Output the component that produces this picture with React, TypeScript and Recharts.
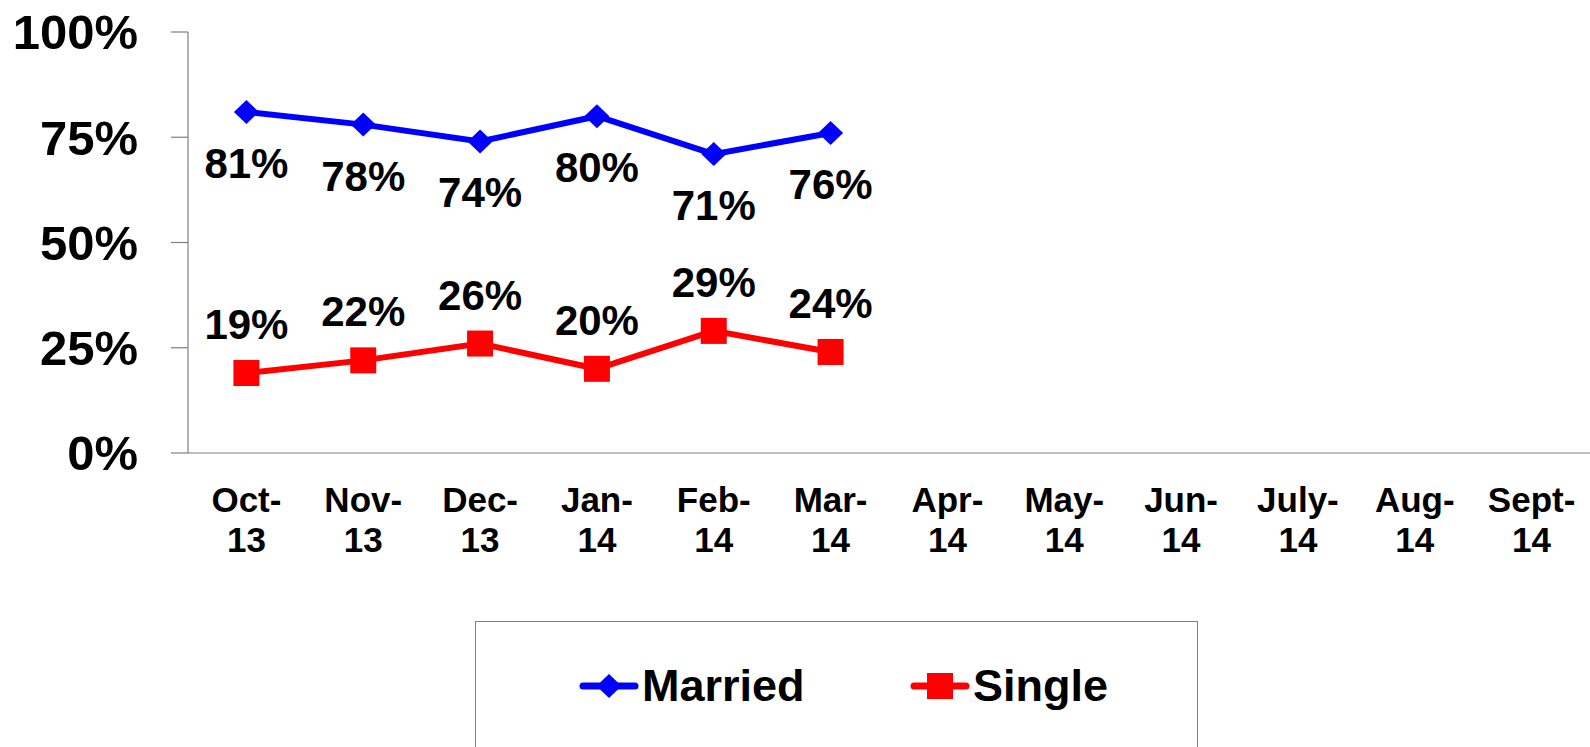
import React from 'react';
import { LineChart, Line, XAxis, YAxis, Legend, LabelList } from 'recharts';

const FONT = '"Liberation Sans", Arial, "DejaVu Sans", sans-serif';

const months = ['Oct-13', 'Nov-13', 'Dec-13', 'Jan-14', 'Feb-14', 'Mar-14', 'Apr-14', 'May-14', 'Jun-14', 'July-14', 'Aug-14', 'Sept-14'];
const married = [81, 78, 74, 80, 71, 76];
const single = [19, 22, 26, 20, 29, 24];
const yTicks = [0, 25, 50, 75, 100];
const boundaryTicks = [0, 1, 2, 3, 4, 5, 6, 7, 8, 9, 10, 11, 12];

const BLUE = '#0000FF';
const RED = '#FF0000';
const AXIS = '#7f7f7f';

const data = months.map((m, i) => ({
  month: m,
  Married: i < married.length ? married[i] : null,
  Single: i < single.length ? single[i] : null,
}));

const DiamondDot = (props: any) => {
  const { cx, cy, value } = props;
  if (cx == null || cy == null || value == null) return null;
  const w = 12.5, h = 12;
  return <polygon points={`${cx - w},${cy} ${cx},${cy - h} ${cx + w},${cy} ${cx},${cy + h}`} fill={BLUE} />;
};

const SquareDot = (props: any) => {
  const { cx, cy, value } = props;
  if (cx == null || cy == null || value == null) return null;
  const s = 13;
  return <rect x={cx - s} y={cy - s} width={2 * s} height={2 * s} fill={RED} />;
};

const makeLabel = (dy: number) => (props: any) => {
  const vb = props.viewBox || {};
  const x = props.x ?? vb.x;
  const y = props.y ?? vb.y;
  const { value } = props;
  if (x == null || y == null || value == null) return null;
  return (
    <text x={x} y={y + dy} textAnchor="middle" fontFamily={FONT} fontWeight={700} fontSize={42} fill="#000">
      {`${value}%`}
    </text>
  );
};

const MonthTick = (props: any) => {
  const { x, y, payload } = props;
  const v: string = String(payload.value);
  const idx = v.lastIndexOf('-');
  const a = v.slice(0, idx + 1);
  const b = v.slice(idx + 1);
  return (
    <text textAnchor="middle" fontFamily={FONT} fontWeight={700} fontSize={35} fill="#000">
      <tspan x={x} y={y + 58}>{a}</tspan>
      <tspan x={x} y={y + 98}>{b}</tspan>
    </text>
  );
};

const LegendIcon = ({ color, shape }: { color: string; shape: string }) => (
  <svg width={60} height={30} style={{ display: 'block' }}>
    <line x1={4} y1={15} x2={56} y2={15} stroke={color} strokeWidth={7} strokeLinecap="round" />
    {shape === 'diamond' ? (
      <polygon points="17.5,15 30,3 42.5,15 30,27" fill={color} />
    ) : (
      <rect x={17} y={2} width={26} height={26} fill={color} />
    )}
  </svg>
);

const legendLeft = [103, 434];

const LegendBox = (props: any) => {
  const payload = props.payload || [];
  return (
    <div
      style={{
        boxSizing: 'border-box',
        width: 723,
        height: 126,
        border: `1px solid ${AXIS}`,
        borderBottom: 'none',
        position: 'relative',
        background: '#fff',
      }}
    >
      {payload.map((entry: any, i: number) => (
        <div
          key={entry.value}
          style={{
            position: 'absolute',
            left: legendLeft[i],
            top: 64,
            transform: 'translateY(-50%)',
            display: 'flex',
            alignItems: 'center',
          }}
        >
          <LegendIcon color={entry.color} shape={entry.value === 'Married' ? 'diamond' : 'square'} />
          <span
            style={{
              fontFamily: FONT,
              fontWeight: 700,
              fontSize: 45,
              lineHeight: '50px',
              color: '#000',
              marginLeft: 3,
            }}
          >
            {entry.value}
          </span>
        </div>
      ))}
    </div>
  );
};

export default function App() {
  return (
    <div style={{ position: 'fixed', left: 0, top: 0, width: 1590, height: 747, background: '#fff' }}>
      <LineChart
        width={1590}
        height={747}
        data={data}
        margin={{ top: 32, right: 0, bottom: 194, left: 0 }}
        style={{ fontFamily: FONT }}
      >
        <XAxis
          xAxisId="a0"
          type="number"
          domain={[0, 12]}
          ticks={boundaryTicks}
          allowDataOverflow
          tick={false}
          tickSize={10}
          height={1}
          stroke={AXIS}
          axisLine={{ stroke: AXIS, strokeWidth: 1.2 }}
          tickLine={{ stroke: AXIS, strokeWidth: 1.2 }}
        />
        <XAxis
          xAxisId="b1"
          dataKey="month"
          type="category"
          scale="band"
          interval={0}
          height={99}
          axisLine={false}
          tickLine={false}
          tickSize={0}
          tickMargin={0}
          tick={<MonthTick />}
        />
        <YAxis
          type="number"
          domain={[0, 100]}
          ticks={yTicks}
          width={188}
          tickSize={17}
          tickMargin={33}
          tickFormatter={(v: number) => `${v}%`}
          axisLine={{ stroke: AXIS, strokeWidth: 1.2 }}
          tickLine={{ stroke: AXIS, strokeWidth: 1.2 }}
          tick={{ fontSize: 49, fontWeight: 700, fill: '#000', fontFamily: FONT }}
        />
        <Legend
          layout="horizontal"
          verticalAlign="middle"
          align="center"
          wrapperStyle={{ left: 475, top: 621, width: 723, height: 126 }}
          content={<LegendBox />}
        />
        <Line
          xAxisId="b1"
          dataKey="Married"
          stroke={BLUE}
          strokeWidth={6}
          dot={<DiamondDot />}
          activeDot={false}
          isAnimationActive={false}
          connectNulls={false}
        >
          <LabelList dataKey="Married" content={makeLabel(66)} />
        </Line>
        <Line
          xAxisId="b1"
          dataKey="Single"
          stroke={RED}
          strokeWidth={6}
          dot={<SquareDot />}
          activeDot={false}
          isAnimationActive={false}
          connectNulls={false}
        >
          <LabelList dataKey="Single" content={makeLabel(-34)} />
        </Line>
      </LineChart>
    </div>
  );
}
